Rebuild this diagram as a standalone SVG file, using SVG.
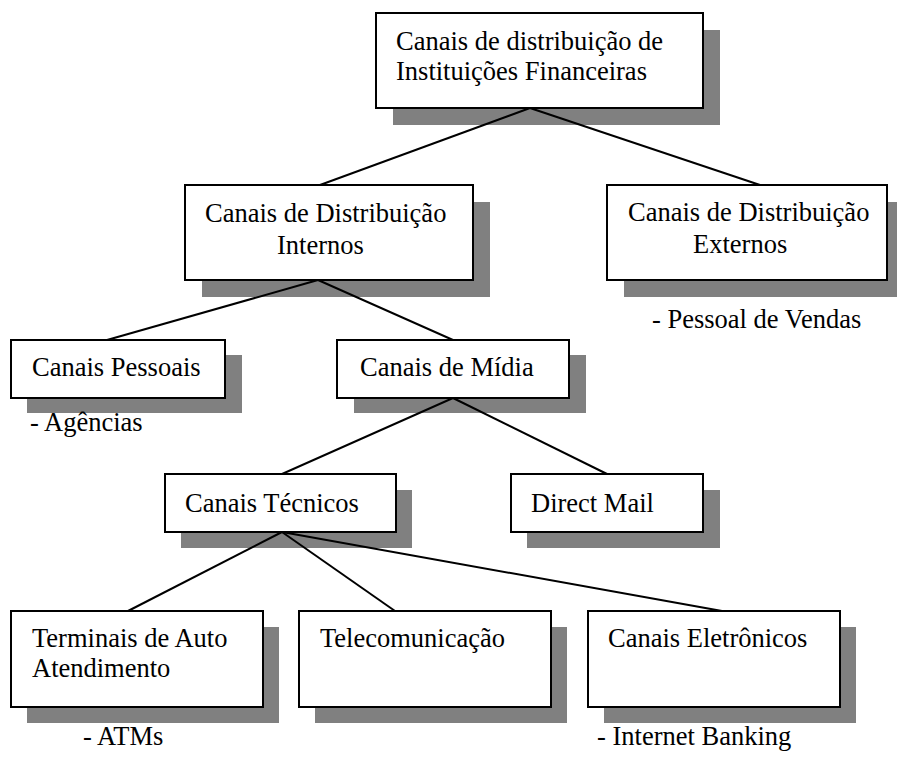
<svg xmlns="http://www.w3.org/2000/svg" width="897" height="774" viewBox="0 0 897 774">
  <style>
    .shadow { fill: #808080; stroke: none; }
    .box { fill: #ffffff; stroke: #000000; stroke-width: 2; }
    .lbl { font-family: "Liberation Serif", "Times New Roman", serif; font-size: 26.5px; fill: #000000; }
    .link { stroke: #000000; stroke-width: 2; fill: none; }
  </style>
  <rect width="897" height="774" fill="#ffffff"/>

  <g id="root">
    <rect class="shadow" x="393" y="30" width="327" height="95"/>
    <rect class="box" x="376" y="13" width="327" height="95"/>
    <text class="lbl" x="396" y="50">Canais de distribuição de</text>
    <text class="lbl" x="396" y="80">Instituições Financeiras</text>
  </g>

  <g id="internos">
    <rect class="shadow" x="202" y="202" width="288" height="95"/>
    <rect class="box" x="185" y="185" width="288" height="95"/>
    <text class="lbl" x="205" y="222">Canais de Distribuição</text>
    <text class="lbl" x="277" y="254">Internos</text>
  </g>

  <g id="externos">
    <rect class="shadow" x="624" y="202" width="280" height="95"/>
    <rect class="box" x="607" y="185" width="280" height="95"/>
    <text class="lbl" x="628" y="221">Canais de Distribuição</text>
    <text class="lbl" x="693" y="253">Externos</text>
    <text class="lbl" x="652" y="328">- Pessoal de Vendas</text>
  </g>

  <g id="pessoais">
    <rect class="shadow" x="27" y="355" width="215" height="58"/>
    <rect class="box" x="11" y="340" width="214" height="58"/>
    <text class="lbl" x="32" y="376">Canais Pessoais</text>
    <text class="lbl" x="30" y="431">- Agências</text>
  </g>

  <g id="midia">
    <rect class="shadow" x="354" y="355" width="232" height="58"/>
    <rect class="box" x="337" y="340" width="232" height="58"/>
    <text class="lbl" x="360" y="376">Canais de Mídia</text>
  </g>

  <g id="tecnicos">
    <rect class="shadow" x="181" y="490" width="231" height="58"/>
    <rect class="box" x="165" y="474" width="231" height="58"/>
    <text class="lbl" x="185" y="512">Canais Técnicos</text>
  </g>

  <g id="direct-mail">
    <rect class="shadow" x="527" y="490" width="193" height="58"/>
    <rect class="box" x="511" y="474" width="192" height="58"/>
    <text class="lbl" x="531" y="512">Direct Mail</text>
  </g>

  <g id="terminais">
    <rect class="shadow" x="27" y="627" width="252" height="96"/>
    <rect class="box" x="11" y="611" width="252" height="96"/>
    <text class="lbl" x="32" y="647">Terminais de Auto</text>
    <text class="lbl" x="32" y="677">Atendimento</text>
    <text class="lbl" x="83" y="745">- ATMs</text>
  </g>

  <g id="telecom">
    <rect class="shadow" x="315" y="627" width="252" height="96"/>
    <rect class="box" x="299" y="611" width="252" height="96"/>
    <text class="lbl" x="320" y="647">Telecomunicação</text>
  </g>

  <g id="eletronicos">
    <rect class="shadow" x="604" y="627" width="252" height="96"/>
    <rect class="box" x="588" y="611" width="252" height="96"/>
    <text class="lbl" x="608" y="647">Canais Eletrônicos</text>
    <text class="lbl" x="597" y="745">- Internet Banking</text>
  </g>

  <!-- connectors: drawn last so they run over the drop shadows -->
  <g id="connectors">
    <line class="link" x1="530" y1="108" x2="320" y2="185"/>
    <line class="link" x1="530" y1="108" x2="760" y2="185"/>
    <line class="link" x1="318" y1="280" x2="107" y2="340"/>
    <line class="link" x1="318" y1="280" x2="453" y2="340"/>
    <line class="link" x1="453" y1="398" x2="282" y2="474"/>
    <line class="link" x1="453" y1="398" x2="607" y2="474"/>
    <line class="link" x1="282" y1="532" x2="128" y2="611"/>
    <line class="link" x1="282" y1="532" x2="395" y2="611"/>
    <line class="link" x1="282" y1="532" x2="722" y2="611"/>
  </g>
</svg>
